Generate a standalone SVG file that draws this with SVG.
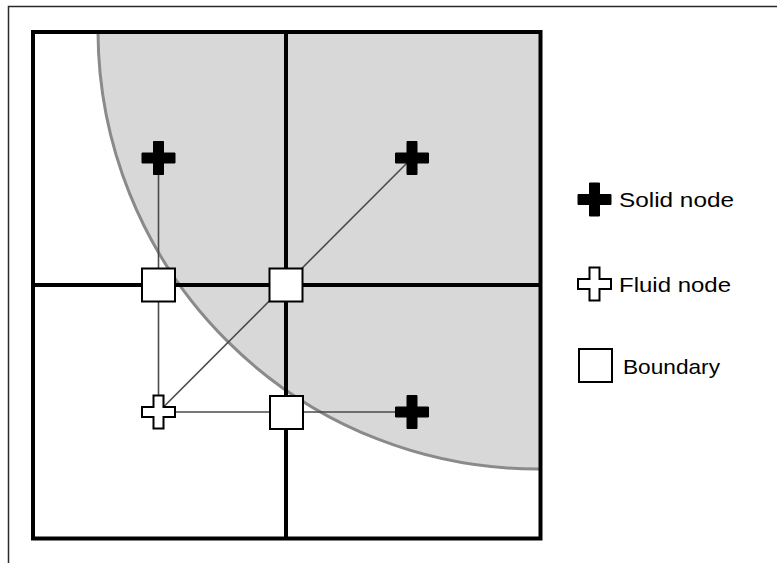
<svg xmlns="http://www.w3.org/2000/svg" width="777" height="563" viewBox="0 0 777 563">
  <style>
    .grid { fill: none; stroke: #000; stroke-width: 4; }
    .link { stroke: #4a4a4a; stroke-width: 1.6; fill: none; }
    .solid { fill: #000; stroke: #000; stroke-width: 1; }
    .fluid { fill: #fff; stroke: #000; stroke-width: 2; }
    .bnd { fill: #fff; stroke: #000; stroke-width: 2; }
    .label { font-family: "Liberation Sans", Arial, sans-serif; font-size: 21px; fill: #000; }
  </style>
  <defs>
    <path id="cross" d="M-5,-16.5 H5 V-5 H16.5 V5 H5 V16.5 H-5 V5 H-16.5 V-5 H-5 Z"/>
    <clipPath id="cell">
      <rect x="33" y="32" width="507.5" height="506.5"/>
    </clipPath>
  </defs>

  <rect width="777" height="563" fill="#fff"/>
  <!-- outer frame -->
  <rect x="8.5" y="6.5" width="800" height="600" fill="none" stroke="#2a2a2a" stroke-width="1.5"/>

  <!-- solid region bounded by a circular arc -->
  <g id="solid-region" clip-path="url(#cell)">
    <path d="M98,32 A439,439 0 0 0 540,469 L540,32 Z" fill="#d8d8d8"/>
    <path d="M98,32 A439,439 0 0 0 540,469" fill="none" stroke="#8a8a8a" stroke-width="3"/>
  </g>

  <!-- lattice grid -->
  <g id="grid">
    <rect class="grid" x="33" y="32" width="507.5" height="506.5"/>
    <line class="grid" x1="286" y1="32" x2="286" y2="538.5"/>
    <line class="grid" x1="33" y1="285" x2="540.5" y2="285"/>
  </g>

  <!-- links from the fluid node to neighbouring solid nodes -->
  <g id="connectors">
    <line class="link" x1="158.5" y1="412" x2="158.5" y2="158"/>
    <line class="link" x1="158.5" y1="412" x2="412" y2="158"/>
    <line class="link" x1="158.5" y1="412" x2="412" y2="412"/>
  </g>

  <g id="solid-1"><use href="#cross" class="solid" x="158.5" y="158"/></g>
  <g id="solid-2"><use href="#cross" class="solid" x="412" y="158"/></g>
  <g id="solid-3"><use href="#cross" class="solid" x="412" y="412"/></g>
  <g id="fluid-1"><use href="#cross" class="fluid" x="158.5" y="412"/></g>

  <g id="boundary-1"><rect class="bnd" x="142" y="268.5" width="33" height="33"/></g>
  <g id="boundary-2"><rect class="bnd" x="269.5" y="268.5" width="33" height="33"/></g>
  <g id="boundary-3"><rect class="bnd" x="270" y="396" width="33" height="33"/></g>

  <!-- legend -->
  <g id="legend-solid">
    <use href="#cross" class="solid" x="594.5" y="199.5"/>
    <text class="label" x="619" y="207" textLength="115" lengthAdjust="spacingAndGlyphs">Solid node</text>
  </g>
  <g id="legend-fluid">
    <use href="#cross" class="fluid" x="594.5" y="284"/>
    <text class="label" x="619" y="292" textLength="112" lengthAdjust="spacingAndGlyphs">Fluid node</text>
  </g>
  <g id="legend-boundary">
    <rect class="bnd" x="579" y="349" width="33" height="33"/>
    <text class="label" x="623" y="374" textLength="97" lengthAdjust="spacingAndGlyphs">Boundary</text>
  </g>
</svg>
